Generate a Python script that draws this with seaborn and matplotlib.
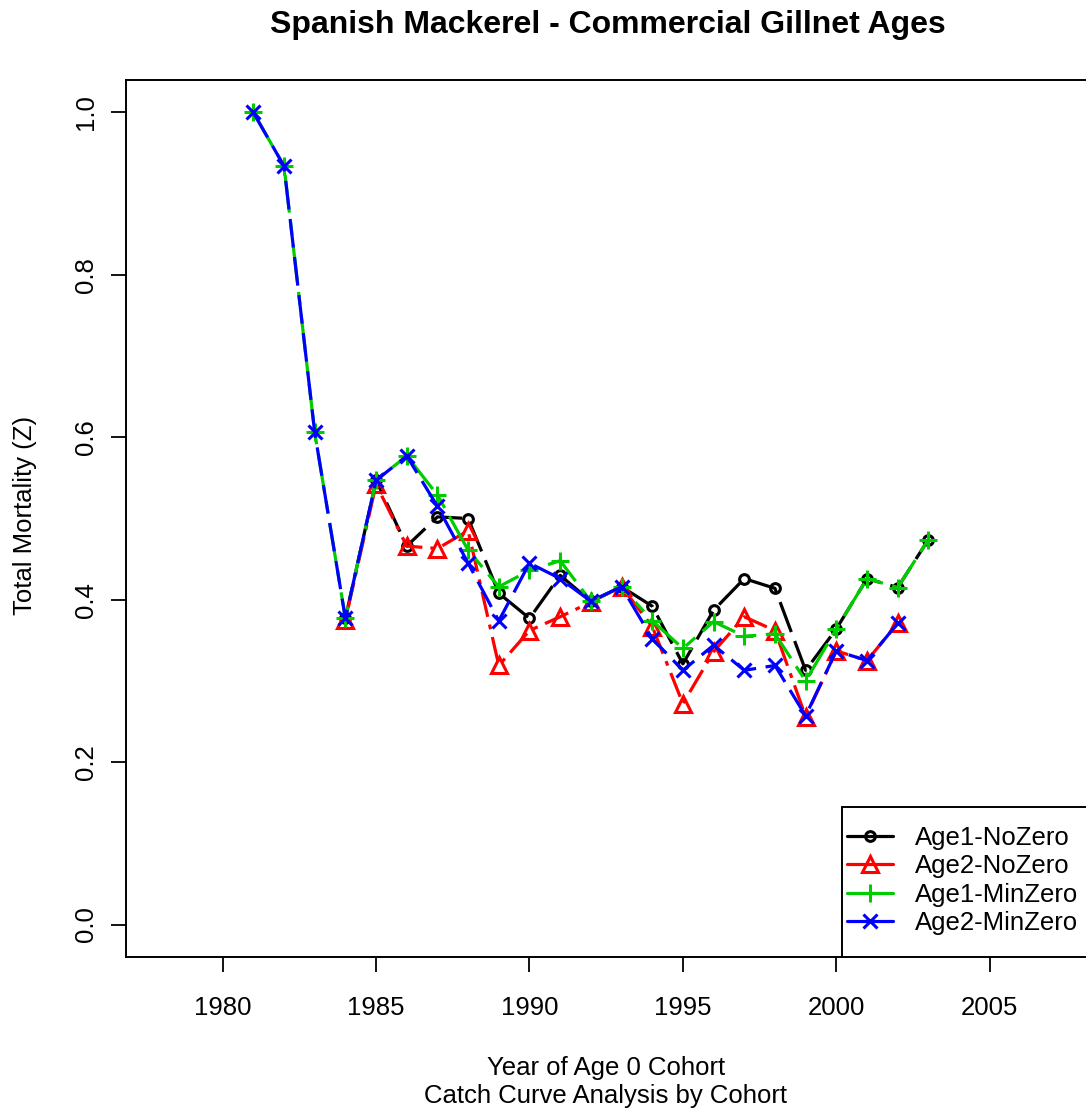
import matplotlib
matplotlib.use('Agg')
import matplotlib.pyplot as plt
from matplotlib.lines import Line2D
from matplotlib.patches import Rectangle
import numpy as np
import pandas as pd
import seaborn as sns

# Dati (Z per coorte)
anni_tutti = list(range(1981, 2004))
anni_nozero1 = list(range(1984, 2004))
anni_nozero2 = list(range(1984, 2003))
anni_minzero2 = list(range(1981, 2003))

age1_nozero = [0.377, 0.547, 0.466, 0.502, 0.500, 0.408, 0.377, 0.430, 0.398, 0.416,
               0.392, 0.321, 0.387, 0.426, 0.414, 0.313, 0.364, 0.426, 0.415, 0.474]
age2_nozero = [0.375, 0.542, 0.466, 0.463, 0.485, 0.319, 0.362, 0.379, 0.397, 0.416,
               0.367, 0.272, 0.336, 0.379, 0.362, 0.256, 0.337, 0.325, 0.371]
age1_minzero = [1.000, 0.934, 0.606, 0.377, 0.547, 0.577, 0.529, 0.461, 0.416, 0.436,
                0.448, 0.398, 0.416, 0.374, 0.340, 0.373, 0.355, 0.358, 0.300, 0.364,
                0.426, 0.415, 0.474]
age2_minzero = [1.000, 0.934, 0.606, 0.377, 0.547, 0.577, 0.515, 0.445, 0.374, 0.445,
                0.426, 0.398, 0.416, 0.352, 0.313, 0.344, 0.313, 0.319, 0.257, 0.337,
                0.325, 0.371]

nomi = ['Age1-NoZero', 'Age2-NoZero', 'Age1-MinZero', 'Age2-MinZero']
colori = ['black', '#FF0000', '#00CD00', '#0000FF']
marker = ['o', '^', '+', 'x']
dim_marker = [7, 12, 13, 10]
tratti = [(0, (10, 3)), (0, (1.5, 2.5, 8, 2.5)), (0, (12, 3, 4, 3)), (0, (9, 3))]

serie = [(anni_nozero1, age1_nozero), (anni_nozero2, age2_nozero),
         (anni_tutti, age1_minzero), (anni_minzero2, age2_minzero)]

sns.set_style('white')
plt.rcParams['font.family'] = ['Liberation Sans', 'DejaVu Sans']
plt.rcParams['text.color'] = 'black'
plt.rcParams['xtick.color'] = 'black'
plt.rcParams['ytick.color'] = 'black'

fig = plt.figure(figsize=(10.86, 11.15), dpi=100)
ax = fig.add_axes([125.7 / 1086, (1115 - 957) / 1115, 961 / 1086, (957 - 80) / 1115])

for (x, y), nome, c, m, ms, ls in zip(serie, nomi, colori, marker, dim_marker, tratti):
    df = pd.DataFrame({'Anno': x, 'Z': y})
    sns.lineplot(data=df, x='Anno', y='Z', ax=ax, color=c, linestyle=ls, lw=2.3,
                 marker=m, markersize=ms, markerfacecolor='none', markeredgecolor=c,
                 markeredgewidth=2.2, estimator=None, sort=False)

ax.set_xlim(1976.84, 2008.16)
ax.set_ylim(-0.04, 1.04)
ax.set_xticks([1980, 1985, 1990, 1995, 2000, 2005])
ax.set_yticks([0.0, 0.2, 0.4, 0.6, 0.8, 1.0])
ax.set_yticklabels(['0.0', '0.2', '0.4', '0.6', '0.8', '1.0'], rotation=90, va='center')
ax.tick_params(axis='x', length=11, width=1.3, pad=17, labelsize=18.5, direction='out', bottom=True)
ax.tick_params(axis='y', length=11, width=1.3, pad=9, labelsize=18.5, direction='out', left=True)
for s in ax.spines.values():
    s.set_linewidth(1.4)
    s.set_color('black')
ax.set_xlabel('')
ax.set_ylabel('')

# Titolo ed etichette
fig.text(608 / 1086, 1 - 25 / 1115, 'Spanish Mackerel - Commercial Gillnet Ages',
         ha='center', va='center', fontsize=23, fontweight='bold')
fig.text(606 / 1086, 1 - 1068 / 1115, 'Year of Age 0 Cohort', ha='center', va='center', fontsize=18.5)
fig.text(606 / 1086, 1 - 1096 / 1115, 'Catch Curve Analysis by Cohort', ha='center', va='center', fontsize=18.5)
fig.text(25 / 1086, 1 - 515 / 1115, 'Total Mortality (Z)', ha='center', va='center',
         rotation=90, fontsize=18.5)

# Legenda: cornice disegnata a parte come in R (bordo largo sopra e sotto)
cornice = Rectangle(((842 - 125.7) / 961, 0), 0.3, (957 - 807) / 877, transform=ax.transAxes,
                    fill=True, facecolor='white', edgecolor='black', lw=1.4, zorder=5,
                    clip_on=True)
ax.add_patch(cornice)
maniglie = [Line2D([0], [0], color=c, lw=2.3, marker=m, markersize=ms,
                   markerfacecolor='none', markeredgecolor=c, markeredgewidth=2.2)
            for c, m, ms in zip(colori, marker, dim_marker)]
leg = ax.legend(maniglie, nomi, loc='upper left', bbox_to_anchor=(847 / 1086, 1 - 826 / 1115),
                bbox_transform=fig.transFigure, borderaxespad=0, fontsize=18.5, frameon=False,
                handlelength=1.8, handletextpad=0.86, labelspacing=0.17, borderpad=0)
leg.set_zorder(6)

plt.savefig('out.png', dpi=100)
